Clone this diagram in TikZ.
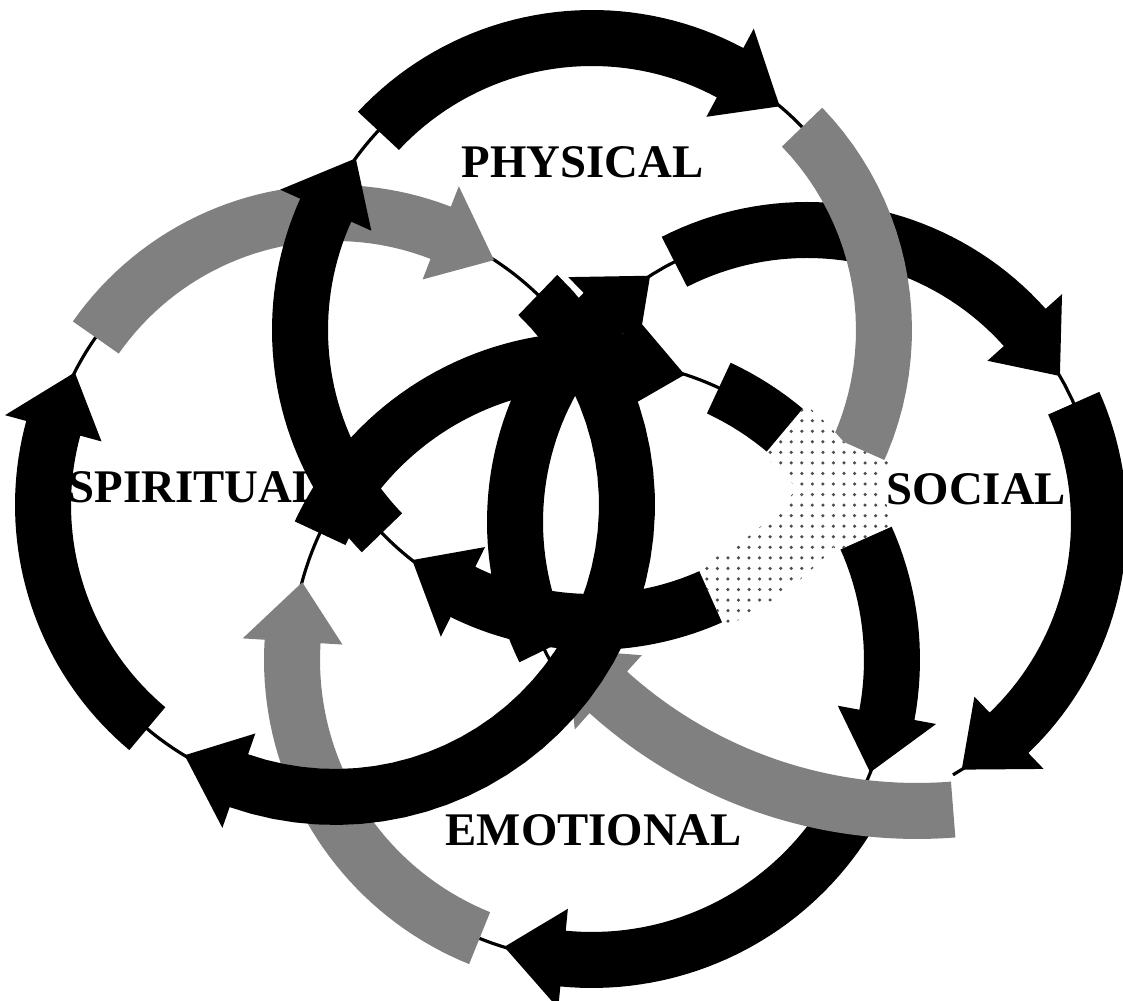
\documentclass[tikz,border=0pt]{standalone}
\usepackage{fontspec}
\setmainfont{Liberation Serif}
\usetikzlibrary{patterns}
% ring arrow: centre x, centre y, radius, start angle, tip angle, style
\newcommand\rarrow[6]{%
  \pgfmathsetmacro\hb{#5-3438/#3}%
  \pgfmathsetmacro\ro{#3+28}\pgfmathsetmacro\ri{#3-28}%
  \pgfmathsetmacro\hro{#3+50}\pgfmathsetmacro\hri{#3-50}%
  \fill[#6] plot[domain=#4:\hb,samples=40] ({#1+\ro*cos(\x)},{#2+\ro*sin(\x)})
    -- ({#1+\hro*cos(\hb)},{#2+\hro*sin(\hb)})
    -- ({#1+#3*cos(#5)},{#2+#3*sin(#5)})
    -- ({#1+\hri*cos(\hb)},{#2+\hri*sin(\hb)})
    -- plot[domain=\hb:#4,samples=40] ({#1+\ri*cos(\x)},{#2+\ri*sin(\x)}) -- cycle;}
% ring band without head: centre x, centre y, radius, start, end, style, half width
\newcommand\rband[7]{%
  \pgfmathsetmacro\ro{#3+#7}\pgfmathsetmacro\ri{#3-#7}%
  \fill[#6] plot[domain=#4:#5,samples=30] ({#1+\ro*cos(\x)},{#2+\ro*sin(\x)})
    -- plot[domain=#5:#4,samples=30] ({#1+\ri*cos(\x)},{#2+\ri*sin(\x)}) -- cycle;}
\tikzset{
  ringline/.style={draw=black, line width=0.9pt},
  blk/.style={black},
  gry/.style={black!50},
  noise/.style={white, postaction={pattern=dots, pattern color=black!70}},
  lab/.style={font=\fontsize{13.3}{16}\selectfont\bfseries, inner sep=0pt, anchor=base west}
}
\begin{document}
\begin{tikzpicture}[x=0.01cm, y=-0.01cm]
\useasboundingbox (0,0) rectangle (1123,1001);
\fill[white] (0,0) rectangle (1123,1001);
% thin rings
\draw[ringline] (592,330) circle[radius=2.92cm];
\draw[ringline] (335,505) circle[radius=2.92cm];
\draw[ringline] plot[domain=150:420,samples=90] ({807+292*cos(\x)},{522+292*sin(\x)});
\draw[ringline] (592,660) circle[radius=3.00cm];
% labels
\node[lab] (phys) at (461,178) {PHYSICAL};
\node[lab] (spir) at (68,503) {SPIRITUAL};
\node[lab] (soc) at (886,505) {SOCIAL};
\node[lab] (emo) at (445,846) {EMOTIONAL};
% social: top and right
\rarrow{807}{522}{292}{243}{330}{blk}
\rarrow{807}{522}{292}{336}{418}{blk}
% physical gray
\rband{592}{330}{292}{316}{400}{gry}{28}
% emotional bottom
\rarrow{592}{660}{300}{27}{107}{blk}
% social gray bottom (flatter arc) and left
\rarrow{917}{350}{461}{85.5}{139.5}{gry}
\rarrow{807}{522}{292}{154}{237.5}{blk}
% emotional gray left
\rarrow{592}{660}{300}{112}{195}{gry}
% spiritual
\rarrow{335}{505}{292}{314}{481}{blk}
\rarrow{335}{505}{292}{130}{207}{blk}
\rarrow{335}{505}{292}{215}{303}{gry}
% physical black
\rarrow{592}{330}{292}{136}{216}{blk}
\rarrow{592}{330}{292}{223}{310}{blk}
\rarrow{592}{330}{292}{420}{488}{blk}
% emotional top and right
\rarrow{592}{660}{300}{205}{288}{blk}
\rarrow{592}{660}{300}{295}{382}{blk}
% faded patches
\rband{592}{330}{292}{384}{426}{noise}{33}
\rband{592}{660}{300}{310}{336}{noise}{33}
\end{tikzpicture}
\end{document}
